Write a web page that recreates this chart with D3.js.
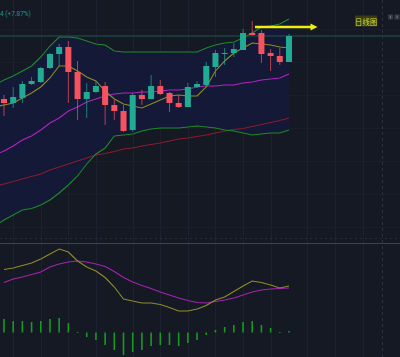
<!DOCTYPE html>
<html><head><meta charset="utf-8">
<script src="https://cdn.jsdelivr.net/npm/d3@7"></script>
<style>html,body{margin:0;padding:0;background:#151924;overflow:hidden}svg{display:block}</style>
</head><body><svg id="c" width="400" height="357"></svg>
<script>
// ---- data (daily candles, 32 visible bars) ----
const opens  = [88.80,87.59,89.10,93.34,93.95,98.18,102.42,104.54,96.97,88.80,90.92,92.74,86.99,85.17,79.42,90.01,88.80,92.74,90.62,87.59,86.38,92.43,93.04,98.49,102.57,102.72,103.63,108.78,108.78,102.72,101.82,100.00];
const highs  = [90.01,92.43,94.25,95.46,98.49,102.72,105.45,106.36,100.30,93.64,94.25,93.95,88.50,86.99,90.62,91.53,96.07,94.55,90.92,90.01,93.64,94.25,100.00,103.63,104.24,105.75,109.99,112.41,109.69,103.93,104.24,108.47];
const lows   = [83.66,86.08,87.59,93.04,93.64,97.88,98.79,87.59,82.45,83.05,90.62,80.93,82.45,78.81,78.81,86.99,88.80,90.01,84.87,86.08,86.38,92.13,92.74,95.46,99.09,101.51,103.63,108.02,99.70,97.28,99.09,100.00];
const closes = [87.59,89.41,93.34,94.25,98.18,102.42,104.54,96.97,88.80,90.92,92.74,86.99,85.17,79.12,90.01,88.80,92.74,90.31,87.59,86.38,92.43,93.34,98.79,102.72,102.72,103.93,108.78,108.17,102.42,101.82,100.00,107.87];
// overlay lines: first value belongs to the bar just before the visible window
const bbUpper = [93.04,94.55,95.76,97.28,98.79,101.51,104.84,107.57,107.57,107.26,106.36,105.45,105.15,103.33,103.03,103.03,103.03,103.03,103.03,103.03,103.03,103.03,103.03,104.24,105.15,105.75,106.05,107.26,108.78,110.59,110.90,111.50,113.01];
const bbLower = [50.36,52.18,53.69,55.21,55.66,56.72,58.23,60.35,62.77,65.50,69.13,72.16,73.97,77.60,77.91,78.21,79.12,79.72,80.02,80.02,80.02,80.33,80.63,80.33,80.02,79.42,79.12,78.51,77.91,78.21,78.51,78.51,79.42];
const ma5  = [86.38,86.99,87.59,89.10,90.62,92.43,95.16,98.79,98.79,97.28,95.46,94.25,91.22,88.80,87.29,86.68,86.08,87.29,88.50,89.71,90.01,89.71,89.71,92.43,97.28,100.30,102.72,104.24,105.75,105.45,105.15,104.54,104.24];
const ma20 = [71.85,73.06,74.58,76.39,77.60,79.42,81.54,83.05,85.17,86.38,87.89,88.80,89.71,90.31,90.62,90.62,90.92,90.92,91.22,91.53,91.53,91.83,92.43,92.74,92.74,93.04,93.04,93.64,93.95,94.55,94.85,95.16,96.37];
const ma60 = [62.32,63.08,63.83,64.59,65.35,66.10,67.31,68.22,69.13,70.04,70.94,71.85,72.31,72.91,73.67,73.97,74.58,75.03,75.48,76.09,76.70,77.00,77.45,77.91,78.51,79.12,79.57,79.87,80.48,81.08,81.69,82.29,83.05];
// MACD pane
const macdLine   = [2.52,2.58,2.68,2.78,2.94,3.14,3.34,3.22,2.86,2.62,2.46,2.20,1.82,1.34,1.26,1.18,1.18,1.12,1.00,0.86,0.86,0.94,1.08,1.30,1.42,1.64,1.86,2.06,2.00,1.90,1.78,1.86];
const signalLine = [2.00,2.14,2.22,2.32,2.42,2.62,2.74,2.82,2.86,2.82,2.74,2.64,2.44,2.20,2.02,1.88,1.76,1.62,1.50,1.38,1.28,1.20,1.18,1.24,1.30,1.38,1.50,1.62,1.70,1.74,1.76,1.78];
const macdHist   = [0.54,0.46,0.46,0.42,0.46,0.54,0.58,0.38,0.02,-0.18,-0.30,-0.50,-0.70,-0.90,-0.78,-0.70,-0.54,-0.50,-0.50,-0.54,-0.42,-0.30,-0.10,0.10,0.22,0.30,0.42,0.46,0.30,0.18,0.02,0.06];
// labels / ticks
const legendText = "4 (+7.87%)";
const periodLabel = "日线图";
const gridBars = [1,4,7,10,14,17,20,23,26,29,33,36,39];
const priceTicks = [110,100,90,80,70,60,50];
const arrowNote = {from: 27.3, to: 34.1, price: 110.6};

// ---- drawing ----
const W = 400, H = 357, paneSplit = 243;
const svg = d3.select("#c");
svg.append("rect").attr("width", W).attr("height", H).attr("fill", "#151924");

const x = d3.scaleLinear().domain([0, 31]).range([4, 289]);
const y = d3.scaleLinear().domain([50, 110]).range([227.2, 28.96]);
const yM = d3.scaleLinear().domain([0, 1]).range([332.5, 307.5]);

const defs = svg.append("defs");
defs.append("clipPath").attr("id", "mainClip").append("rect").attr("x", 0).attr("y", 0).attr("width", W).attr("height", paneSplit);
defs.append("clipPath").attr("id", "macdClip").append("rect").attr("x", 0).attr("y", paneSplit + 1).attr("width", W).attr("height", H - paneSplit - 1);

// grid
const grid = svg.append("g");
grid.selectAll("line.v").data(gridBars).join("line")
  .attr("x1", d => Math.round(x(d)) + 0.5).attr("x2", d => Math.round(x(d)) + 0.5)
  .attr("y1", 0).attr("y2", H).attr("stroke", "#1c2030").attr("stroke-width", 1);
grid.selectAll("line.h").data(priceTicks).join("line")
  .attr("x1", 0).attr("x2", W)
  .attr("y1", d => Math.round(y(d)) + 0.5).attr("y2", d => Math.round(y(d)) + 0.5)
  .attr("stroke", "#1a1e2b").attr("stroke-width", 1);

const main = svg.append("g").attr("clip-path", "url(#mainClip)");
const lineIdx = (arr) => arr.map((v, k) => [k - 1, v]);

// bollinger fill
const area = d3.area().x(d => x(d[0])).y0(d => y(d[2])).y1(d => y(d[1]));
main.append("path")
  .datum(bbUpper.map((v, k) => [k - 1, v, bbLower[k]]))
  .attr("d", area).attr("fill", "#141937");

const line = d3.line().x(d => x(d[0])).y(d => y(d[1]));
function drawLine(arr, color, w) {
  main.append("path").datum(lineIdx(arr)).attr("d", line)
    .attr("fill", "none").attr("stroke", color).attr("stroke-width", w || 1);
}
drawLine(ma60, "#8a1c2c", 1.1);
drawLine(bbLower, "#1f8a28", 1.1);
drawLine(bbUpper, "#1f8a28", 1.1);
drawLine(ma20, "#b422c0", 1.1);
drawLine(ma5, "#8e8c26", 1.1);

// last price line
main.append("line").attr("x1", 0).attr("x2", W)
  .attr("y1", y(closes[closes.length - 1])).attr("y2", y(closes[closes.length - 1]))
  .attr("stroke", "#1d5a4f").attr("stroke-width", 1);

// candles
const up = "#22ab94", down = "#f7525f";
const candles = d3.range(closes.length).map(i => ({i, o: opens[i], h: highs[i], l: lows[i], c: closes[i]}));
const cg = main.append("g");
cg.selectAll("line.wick").data(candles).join("line")
  .attr("x1", d => x(d.i)).attr("x2", d => x(d.i))
  .attr("y1", d => y(d.h)).attr("y2", d => y(d.l))
  .attr("stroke", d => d.c >= d.o ? up : down).attr("stroke-opacity", 0.7).attr("stroke-width", 1);
cg.selectAll("rect.body").data(candles).join("rect")
  .attr("x", d => x(d.i) - 3).attr("width", 6)
  .attr("y", d => y(Math.max(d.o, d.c)))
  .attr("height", d => Math.max(1, Math.abs(y(d.o) - y(d.c))))
  .attr("fill", d => d.c >= d.o ? up : down);

// annotation arrow
const ay = y(arrowNote.price);
main.append("line").attr("x1", x(arrowNote.from)).attr("x2", x(arrowNote.to) - 5)
  .attr("y1", ay).attr("y2", ay).attr("stroke", "#eeee10").attr("stroke-width", 2.6);
main.append("path")
  .attr("d", `M${x(arrowNote.to)},${ay} L${x(arrowNote.to) - 7},${ay - 3.5} L${x(arrowNote.to) - 7},${ay + 3.5} Z`)
  .attr("fill", "#eeee10");

// period label
main.append("rect").attr("x", 355).attr("y", 15.5).attr("width", 22).attr("height", 11)
  .attr("fill", "#3b3a16");
main.append("text").attr("x", 366).attr("y", 24.5).attr("text-anchor", "middle")
  .attr("font-family", "Noto Sans CJK SC").attr("font-size", 7.5).attr("fill", "#d8d63a")
  .text(periodLabel);

// legend
svg.append("text").attr("x", 0).attr("y", 16).attr("font-family", "Roboto, sans-serif")
  .attr("font-size", 6.5).attr("fill", "#1f9a84").text(legendText);

// top-right icons
svg.selectAll("rect.icon").data([0, 1]).join("rect")
  .attr("x", d => 388 + d * 6.5).attr("y", 14.5).attr("width", 5).attr("height", 5)
  .attr("fill", "#363a46");
svg.selectAll("line.icon").data([0, 1]).join("line")
  .attr("x1", d => 390.5 + d * 6.5).attr("x2", d => 390.5 + d * 6.5)
  .attr("y1", 15.5).attr("y2", 18.5).attr("stroke", "#6a6e7a").attr("stroke-width", 1);

// dashed vertical marker
svg.append("line").attr("x1", 382.5).attr("x2", 382.5).attr("y1", 0).attr("y2", H)
  .attr("stroke", "#2c3040").attr("stroke-dasharray", "3,3");

// pane separators
svg.append("line").attr("x1", 0).attr("x2", W).attr("y1", 238.5).attr("y2", 238.5)
  .attr("stroke", "#2a2e3a").attr("stroke-dasharray", "2,3");
svg.append("line").attr("x1", 0).attr("x2", W).attr("y1", paneSplit + 0.5).attr("y2", paneSplit + 0.5)
  .attr("stroke", "#3e4250").attr("stroke-width", 1);

// MACD pane
const mg = svg.append("g").attr("clip-path", "url(#macdClip)");
mg.selectAll("rect.hist").data(macdHist.map((v, i) => ({i, v}))).join("rect")
  .attr("x", d => x(d.i) - 0.8).attr("width", 1.6)
  .attr("y", d => Math.min(yM(d.v), yM(0)))
  .attr("height", d => Math.max(0.8, Math.abs(yM(d.v) - yM(0))))
  .attr("fill", "#149c22");
const mline = d3.line().x((d, i) => x(i)).y(d => yM(d));
mg.append("path").datum(signalLine).attr("d", mline).attr("fill", "none")
  .attr("stroke", "#a622b4").attr("stroke-width", 1.1);
mg.append("path").datum(macdLine).attr("d", mline).attr("fill", "none")
  .attr("stroke", "#8e8c26").attr("stroke-width", 1.1);
</script>
</body></html>
